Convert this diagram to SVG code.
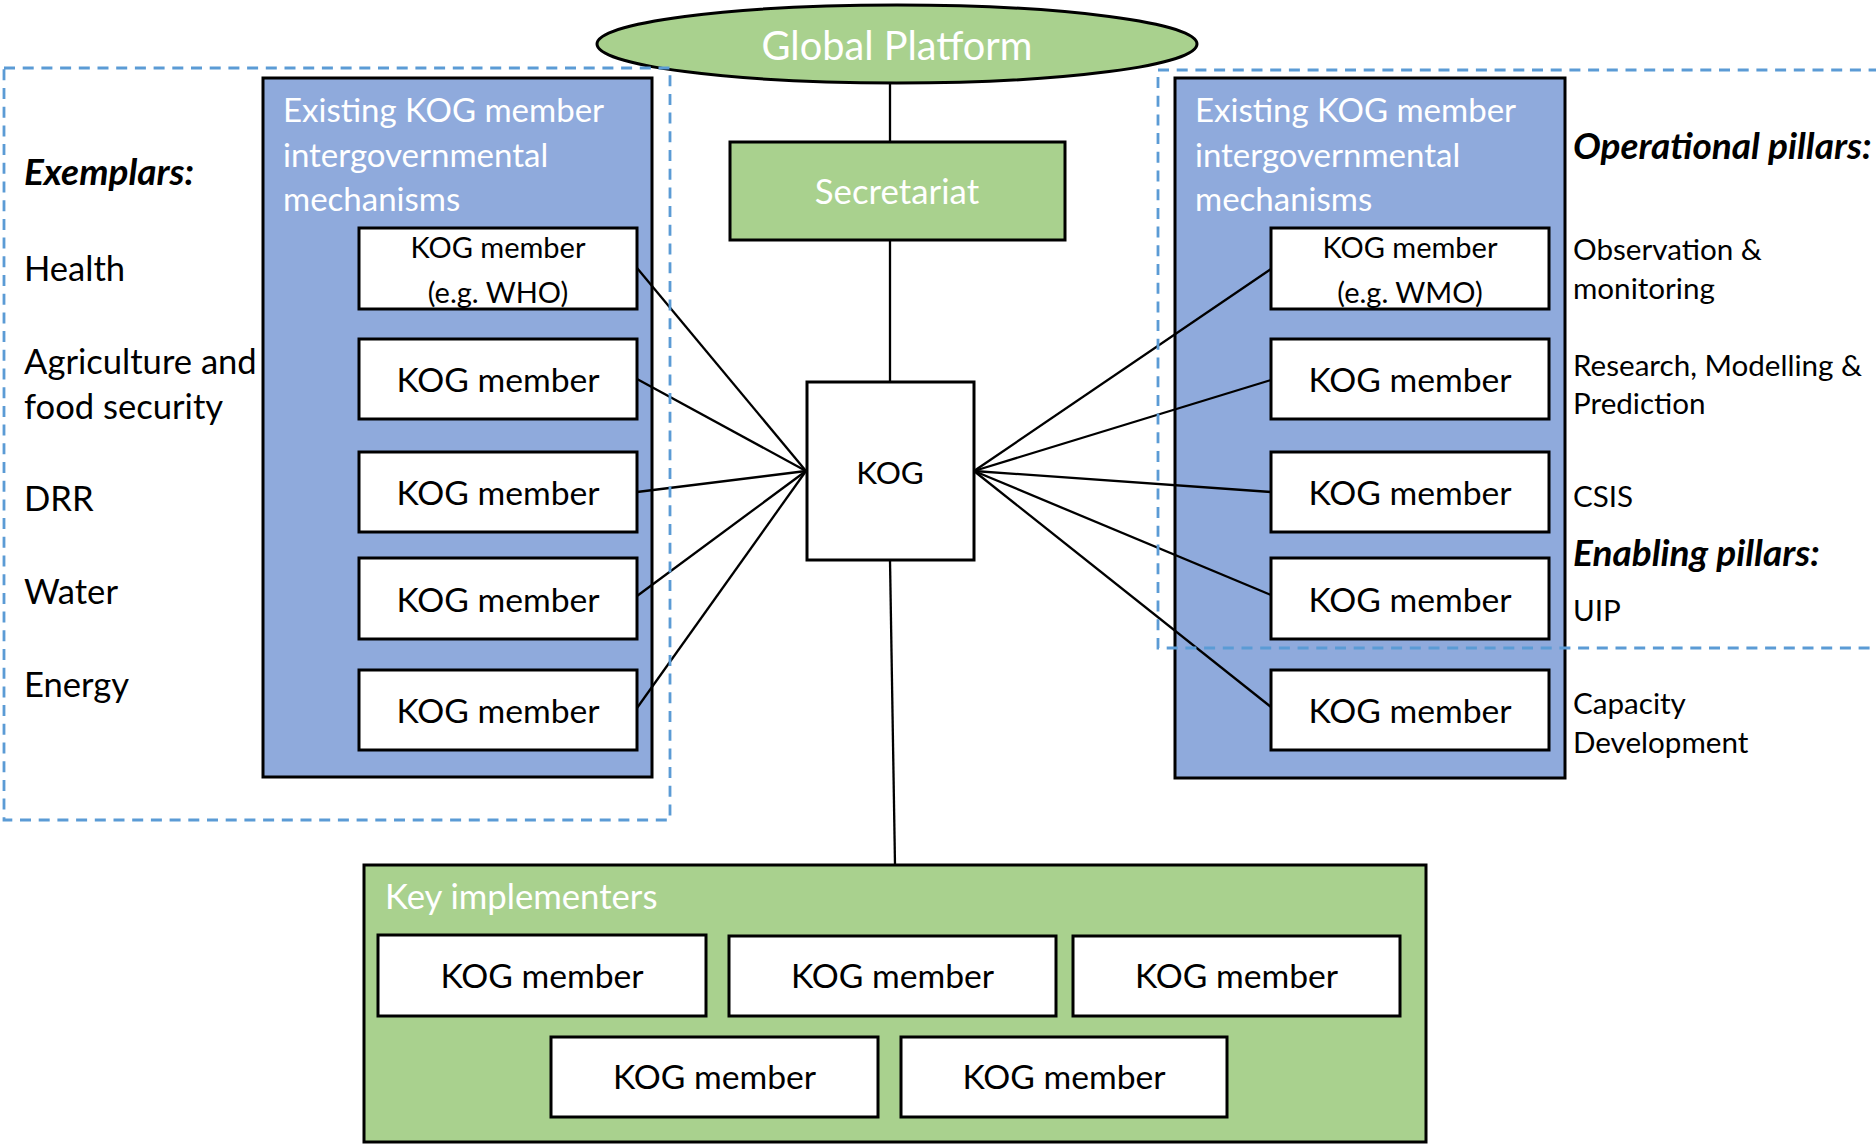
<svg xmlns="http://www.w3.org/2000/svg" width="1876" height="1145" viewBox="0 0 1876 1145">
  <style>
    text { font-family: Lato, "Liberation Sans", sans-serif; }
    .bg { fill: #ffffff; }
    .dash { fill: none; stroke: #5B9BD5; stroke-width: 2.8; stroke-dasharray: 11 7.7; }
    .blue { fill: #8FAADC; stroke: #000; stroke-width: 3; }
    .green { fill: #A9D18E; stroke: #000; stroke-width: 3; }
    .box { fill: #ffffff; stroke: #000; stroke-width: 3; }
    .wire { stroke: #000; stroke-width: 2.3; fill: none; }
    .w { fill: #ffffff; font-size: 33px; }
    .b { fill: #000000; font-size: 34.6px; }
    .m { fill: #000000; font-size: 33.7px; text-anchor: middle; }
    .ms { fill: #000000; font-size: 29px; text-anchor: middle; }
    .r { fill: #000000; font-size: 29.6px; }
    .hd { font-weight: bold; font-style: italic; font-size: 37px; }
  </style>

  <rect class="bg" x="0" y="0" width="1876" height="1145"/>

  <g id="global-platform">
    <ellipse class="green" cx="897" cy="44" rx="300" ry="39"/>
    <text x="897" y="60" class="w" style="font-size:39.7px" text-anchor="middle">Global Platform</text>
  </g>

  <g id="secretariat">
    <rect class="green" x="730" y="142" width="335" height="98"/>
    <text x="897" y="204" class="w" style="font-size:34.8px" text-anchor="middle">Secretariat</text>
  </g>

  <g id="kog">
    <rect class="box" x="807" y="382" width="167" height="178"/>
    <text x="890" y="484" class="m" style="font-size:31.5px">KOG</text>
  </g>

  <!-- left side: sector exemplars -->
  <g id="exemplars">
    <text x="24" y="185" class="b hd">Exemplars:</text>
    <text x="24" y="281" class="b">Health</text>
    <text x="24" y="373.5" class="b">Agriculture and</text>
    <text x="24" y="418.5" class="b">food security</text>
    <text x="24" y="510.5" class="b">DRR</text>
    <text x="24" y="603.5" class="b">Water</text>
    <text x="24" y="696.5" class="b">Energy</text>
  </g>

  <g id="left-mechanisms">
    <rect class="blue" x="263" y="78" width="389" height="699"/>
    <text x="283" y="122" class="w">Existing KOG member</text>
    <text x="283" y="166.5" class="w">intergovernmental</text>
    <text x="283" y="211" class="w">mechanisms</text>
  </g>
  <g id="left-member-1">
    <rect class="box" x="359" y="228" width="278" height="81"/>
    <text x="498" y="258" class="ms">KOG member</text>
    <text x="498" y="303" class="ms">(e.g. WHO)</text>
  </g>
  <g id="left-member-2">
    <rect class="box" x="359" y="339" width="278" height="80"/>
    <text x="498" y="392" class="m">KOG member</text>
  </g>
  <g id="left-member-3">
    <rect class="box" x="359" y="452" width="278" height="80"/>
    <text x="498" y="505" class="m">KOG member</text>
  </g>
  <g id="left-member-4">
    <rect class="box" x="359" y="558" width="278" height="81"/>
    <text x="498" y="612" class="m">KOG member</text>
  </g>
  <g id="left-member-5">
    <rect class="box" x="359" y="670" width="278" height="80"/>
    <text x="498" y="723" class="m">KOG member</text>
  </g>

  <!-- right side: pillars -->
  <g id="right-mechanisms">
    <rect class="blue" x="1175" y="78" width="390" height="700"/>
    <text x="1195" y="122" class="w">Existing KOG member</text>
    <text x="1195" y="166.5" class="w">intergovernmental</text>
    <text x="1195" y="211" class="w">mechanisms</text>
  </g>
  <g id="right-member-1">
    <rect class="box" x="1271" y="228" width="278" height="81"/>
    <text x="1410" y="258" class="ms">KOG member</text>
    <text x="1410" y="303" class="ms">(e.g. WMO)</text>
  </g>
  <g id="right-member-2">
    <rect class="box" x="1271" y="339" width="278" height="80"/>
    <text x="1410" y="392" class="m">KOG member</text>
  </g>
  <g id="right-member-3">
    <rect class="box" x="1271" y="452" width="278" height="80"/>
    <text x="1410" y="505" class="m">KOG member</text>
  </g>
  <g id="right-member-4">
    <rect class="box" x="1271" y="558" width="278" height="81"/>
    <text x="1410" y="612" class="m">KOG member</text>
  </g>
  <g id="right-member-5">
    <rect class="box" x="1271" y="670" width="278" height="80"/>
    <text x="1410" y="723" class="m">KOG member</text>
  </g>

  <g id="pillars">
    <text x="1573" y="159" class="b hd">Operational pillars:</text>
    <text x="1573" y="260" class="r">Observation &amp;</text>
    <text x="1573" y="299" class="r">monitoring</text>
    <text x="1573" y="376" class="r">Research, Modelling &amp;</text>
    <text x="1573" y="414" class="r">Prediction</text>
    <text x="1573" y="507" class="r">CSIS</text>
    <text x="1573" y="566" class="b hd">Enabling pillars:</text>
    <text x="1573" y="621" class="r">UIP</text>
    <text x="1573" y="714" class="r">Capacity</text>
    <text x="1573" y="753" class="r">Development</text>
  </g>

  <!-- bottom: implementers -->
  <g id="key-implementers">
    <rect class="green" x="364" y="865" width="1062" height="277"/>
    <text x="385" y="909" class="w" style="font-size:34.7px">Key implementers</text>
  </g>
  <g id="impl-1">
    <rect class="box" x="378" y="935" width="328" height="81"/>
    <text x="542" y="988" class="m">KOG member</text>
  </g>
  <g id="impl-2">
    <rect class="box" x="729" y="936" width="327" height="80"/>
    <text x="892.5" y="988" class="m">KOG member</text>
  </g>
  <g id="impl-3">
    <rect class="box" x="1073" y="936" width="327" height="80"/>
    <text x="1236.5" y="988" class="m">KOG member</text>
  </g>
  <g id="impl-4">
    <rect class="box" x="551" y="1037" width="327" height="80"/>
    <text x="714.5" y="1089" class="m">KOG member</text>
  </g>
  <g id="impl-5">
    <rect class="box" x="901" y="1037" width="326" height="80"/>
    <text x="1064" y="1089" class="m">KOG member</text>
  </g>

  <!-- connectors, drawn over the mechanism panels -->
  <g id="connectors">
    <line class="wire" x1="890" y1="83" x2="890" y2="142"/>
    <line class="wire" x1="890" y1="240" x2="890" y2="382"/>
    <line class="wire" x1="890" y1="560" x2="895" y2="865"/>
    <line class="wire" x1="637" y1="268" x2="806" y2="471"/>
    <line class="wire" x1="637" y1="379" x2="806" y2="471"/>
    <line class="wire" x1="637" y1="492" x2="806" y2="471"/>
    <line class="wire" x1="637" y1="596" x2="806" y2="471"/>
    <line class="wire" x1="637" y1="708" x2="806" y2="471"/>
    <line class="wire" x1="974" y1="471" x2="1271" y2="269"/>
    <line class="wire" x1="974" y1="471" x2="1271" y2="380"/>
    <line class="wire" x1="974" y1="471" x2="1271" y2="492"/>
    <line class="wire" x1="974" y1="471" x2="1271" y2="595"/>
    <line class="wire" x1="974" y1="471" x2="1271" y2="707"/>
  </g>

  <!-- dashed groupings -->
  <rect class="dash" x="4" y="68" width="666" height="752"/>
  <rect class="dash" x="1158" y="70" width="740" height="578"/>
</svg>
